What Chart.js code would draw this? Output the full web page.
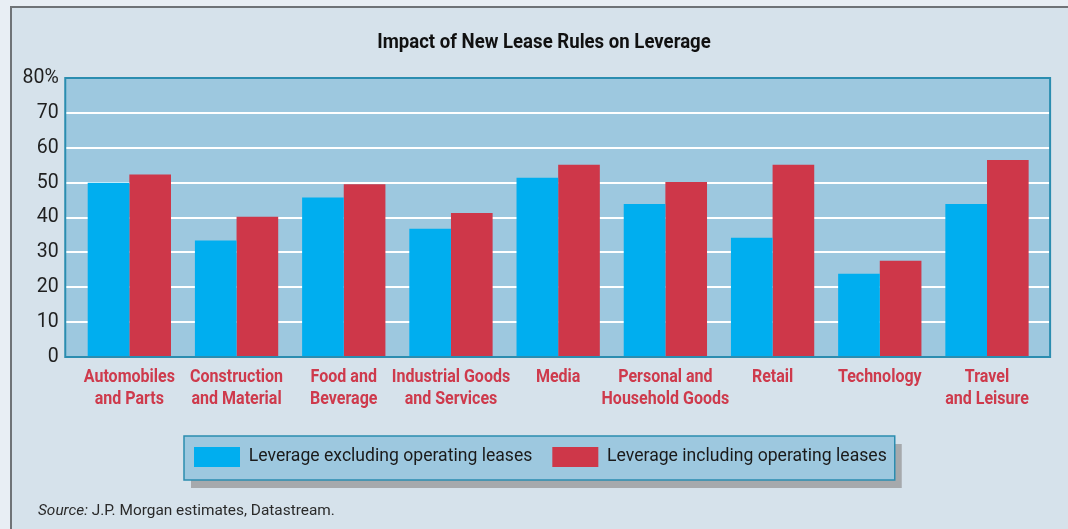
<!DOCTYPE html>
<html>
<head>
<meta charset="utf-8">
<title>Impact of New Lease Rules on Leverage</title>
<script src="https://cdn.jsdelivr.net/npm/chart.js@4.4.1/dist/chart.umd.min.js"></script>
<style>
  html, body { margin: 0; padding: 0; background: #e8eef4; }
  #wrap { position: relative; width: 1068px; height: 529px; overflow: hidden; }
  #source { position: absolute; left: 38px; top: 501px; font: 15.4px Roboto, sans-serif; color: #2a2a2a; white-space: nowrap; }
</style>
</head>
<body>
<div id="wrap">
  <canvas id="leverage" width="1068" height="529"></canvas>
  <div id="source"><i>Source:</i> J.P. Morgan estimates, Datastream.</div>
</div>
<script>

var chartTitle = "Impact of New Lease Rules on Leverage";
var sectors = [
  ["Automobiles", "and Parts"],
  ["Construction", "and Material"],
  ["Food and", "Beverage"],
  ["Industrial Goods", "and Services"],
  ["Media"],
  ["Personal and", "Household Goods"],
  ["Retail"],
  ["Technology"],
  ["Travel", "and Leisure"]
];
var seriesNames = ["Leverage excluding operating leases", "Leverage including operating leases"];
var excludingLeases = [50.0, 33.4, 45.7, 36.8, 51.4, 43.9, 34.2, 23.9, 43.9];
var includingLeases = [52.3, 40.2, 49.5, 41.3, 55.1, 50.2, 55.1, 27.6, 56.5];
var yTicks = [0, 10, 20, 30, 40, 50, 60, 70, 80];

var plainFont = "Roboto, 'Liberation Sans', sans-serif";
var legendLeft = 194;

//squeezed text, stands in for a condensed face
function narrowText(ctx, text, x, y, squeeze) {
  ctx.save();
  ctx.translate(x, y);
  ctx.scale(squeeze, 1);
  ctx.fillText(text, 0, 0);
  ctx.restore();
}

//panel, title, plot fill, grid lines and the legend frame
var backdrop = {
  id: 'backdrop',
  afterUpdate: function(chart) {
    //slide the legend row so it sits under the plot like the print version
    var legend = chart.legend;
    var boxes = legend.legendHitBoxes;
    if (!boxes || !boxes.length) return;
    var shift = legendLeft - boxes[0].left;
    legend.left += shift;
    legend.right += shift;
    boxes.forEach(function(b) { b.left += shift; });
  },
  beforeDraw: function(chart) {
    var ctx = chart.ctx;
    var area = chart.chartArea;
    var yScale = chart.scales.y;
    var left = area.left - 10.5;
    var right = area.right + 9.5;

    ctx.save();
    ctx.fillStyle = '#e8eef4';
    ctx.fillRect(0, 0, chart.width, chart.height);
    ctx.fillStyle = '#d6e2eb';
    ctx.fillRect(10, 6, chart.width - 10, chart.height - 6);
    ctx.fillStyle = '#6f7377';
    ctx.fillRect(10, 6, chart.width - 10, 2);
    ctx.fillRect(10, 6, 2, chart.height - 6);

    ctx.fillStyle = '#111111';
    ctx.font = "bold 20px " + plainFont;
    ctx.textAlign = 'center';
    ctx.textBaseline = 'middle';
    narrowText(ctx, chartTitle, 544, 42.5, 0.93);

    ctx.fillStyle = '#9dc8df';
    ctx.fillRect(left, area.top, right - left, area.bottom - area.top);

    ctx.strokeStyle = '#ffffff';
    ctx.lineWidth = 2;
    yScale.ticks.forEach(function(tick) {
      if (tick.value <= yScale.min || tick.value >= yScale.max) return;
      var py = Math.round(yScale.getPixelForValue(tick.value));
      ctx.beginPath();
      ctx.moveTo(left, py);
      ctx.lineTo(right, py);
      ctx.stroke();
    });

    var boxes = chart.legend.legendHitBoxes;
    if (boxes && boxes.length) {
      var last = boxes[boxes.length - 1];
      var bx = boxes[0].left - 10;
      var by = boxes[0].top - 11;
      var bw = last.left + last.width + 8 - bx;
      var bh = 44;
      ctx.fillStyle = '#a6a9ac';
      ctx.fillRect(bx + 7, by + 8, bw, bh);
      ctx.fillStyle = '#9dc8df';
      ctx.fillRect(bx, by, bw, bh);
      ctx.strokeStyle = '#2b8db0';
      ctx.lineWidth = 1.5;
      ctx.strokeRect(bx, by, bw, bh);
    }
    ctx.restore();
  },
  afterDatasetsDraw: function(chart) {
    var ctx = chart.ctx;
    var area = chart.chartArea;
    var xScale = chart.scales.x;
    var left = area.left - 10.5;
    var right = area.right + 9.5;
    ctx.save();
    ctx.strokeStyle = '#2b8db0';
    ctx.lineWidth = 2;
    ctx.strokeRect(left, area.top, right - left, area.bottom - area.top);

    //sector names under each group, two lines at most
    ctx.fillStyle = '#ce3a4c';
    ctx.font = "bold 18px " + plainFont;
    ctx.textAlign = 'center';
    ctx.textBaseline = 'middle';
    sectors.forEach(function(lines, i) {
      var px = xScale.getPixelForTick(i);
      lines.forEach(function(line, k) {
        narrowText(ctx, line, px, area.bottom + 20 + k * 22.5, 0.89);
      });
    });
    ctx.restore();
  }
};

new Chart(document.getElementById('leverage'), {
  type: 'bar',
  data: {
    labels: sectors,
    datasets: [
      { label: seriesNames[0], data: excludingLeases, backgroundColor: '#00aeef', borderWidth: 0 },
      { label: seriesNames[1], data: includingLeases, backgroundColor: '#ce3749', borderWidth: 0 }
    ]
  },
  options: {
    responsive: false,
    animation: false,
    categoryPercentage: 0.777,
    barPercentage: 1,
    layout: { padding: { top: 78, left: 12, right: 27.4, bottom: 52 } },
    plugins: {
      title: { display: false },
      tooltip: { enabled: false },
      legend: {
        position: 'bottom',
        labels: {
          boxWidth: 46,
          boxHeight: 20,
          padding: 20,
          color: '#1a1a1a',
          font: { family: plainFont, size: 17.6 }
        }
      }
    },
    scales: {
      x: {
        grid: { display: false, drawTicks: false },
        border: { display: false },
        ticks: { display: false },
        afterFit: function(scale) { scale.height = 70; }
      },
      y: {
        min: 0,
        max: 80,
        grid: { display: false, drawTicks: false },
        border: { display: false },
        afterBuildTicks: function(scale) {
          scale.ticks = yTicks.map(function(v) { return { value: v }; });
        },
        ticks: {
          color: '#1f1f1f',
          padding: 17,
          font: { family: plainFont, size: 19.5 },
          callback: function(value) { return value === 80 ? value + '%' : value; }
        },
        afterFit: function(scale) { scale.width = 75.75 - 12; }
      }
    }
  },
  plugins: [backdrop]
});
</script>
</body>
</html>
